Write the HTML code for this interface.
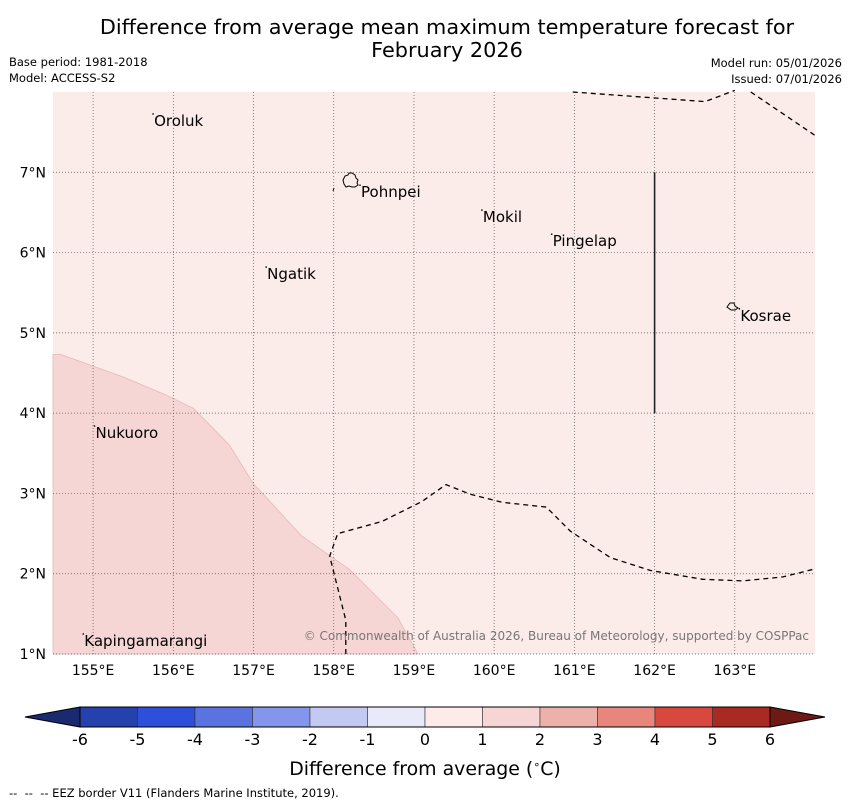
<!DOCTYPE html>
<html><head><meta charset="utf-8"><style>
body{margin:0;background:#fff;}
svg{display:block;font-family:"DejaVu Sans","Liberation Sans",sans-serif;}
</style></head><body>
<svg id="c" width="850" height="804" viewBox="0 0 850 804">
<text x="447" y="34" font-size="20.8" text-anchor="middle">Difference from average mean maximum temperature forecast for</text>
<text x="447" y="57" font-size="20.8" text-anchor="middle">February 2026</text>
<text x="9" y="66" font-size="11.5">Base period: 1981-2018</text>
<text x="9" y="82" font-size="11.5">Model: ACCESS-S2</text>
<text x="842" y="67" font-size="11.5" text-anchor="end">Model run: 05/01/2026</text>
<text x="842" y="83" font-size="11.5" text-anchor="end">Issued: 07/01/2026</text>
<g id="map"></g>
<g id="cbar"></g>
<text x="425" y="775" font-size="18.9" text-anchor="middle">Difference from average (<tspan font-size="11" dy="-7">∘</tspan><tspan dy="7">C)</tspan></text>
<text x="9" y="797" font-size="11.5" xml:space="preserve" style="white-space:pre">--  --  -- EEZ border V11 (Flanders Marine Institute, 2019).</text>
</svg>
<script>
const lonTicks=[155,156,157,158,159,160,161,162,163];
const latTicks=[1,2,3,4,5,6,7];
const anomalyZone=[[154.5,4.73],[154.6,4.73],[155.4,4.44],[155.9,4.23],[156.25,4.06],[156.7,3.6],[157.0,3.12],[157.6,2.47],[158.2,2.05],[158.8,1.45],[159.05,1.0],[154.5,1.0]];
const eezTop=[[160.98,8.0],[162.63,7.88],[163.0,8.02]];
const eezTop2=[[163.2,8.0],[164.0,7.46]];
const eezSouth=[[158.15,1.0],[158.15,1.42],[157.95,2.22],[158.05,2.5],[158.6,2.65],[159.1,2.9],[159.4,3.11],[159.7,2.99],[160.1,2.89],[160.65,2.83],[160.95,2.53],[161.45,2.2],[161.95,2.04],[162.6,1.93],[163.1,1.91],[163.6,1.96],[164.0,2.06]];
const boundary=[[162.0,7.0],[162.0,4.0]];
const places=["Oroluk","Pohnpei","Mokil","Pingelap","Ngatik","Kosrae","Nukuoro","Kapingamarangi"];
const placeLon=[155.76,158.34,159.86,160.73,157.17,163.07,155.03,154.89];
const placeLat=[7.577,6.69,6.38,6.08,5.67,5.15,3.69,1.10];
const cbarLevels=[-6,-5,-4,-3,-2,-1,0,1,2,3,4,5,6];
const cbarColors=["#2541ae","#2e4fdc","#5a73e0","#8396eb","#c2c9f2","#e8eafa","#fcebe9","#f6d5d4","#eeb0ab","#e8857d","#d9483e","#a82a22"];
const NS="http://www.w3.org/2000/svg";
const L=53,R=815,T=92,B=654,lon0=154.5,lon1=164.0,lat0=1.0,lat1=8.0;
const xs=v=>L+(v-lon0)/(lon1-lon0)*(R-L);
const ys=v=>B-(v-lat0)/(lat1-lat0)*(B-T);
function mk(tag,p,a){const e=document.createElementNS(NS,tag);for(const k in a)e.setAttribute(k,a[k]);p.appendChild(e);return e;}
const map=document.getElementById('map');
let e=mk('rect',map,{x:L,y:T,width:R-L,height:B-T,fill:'#fbebe9'});


const pts=a=>a.map(p=>xs(p[0]).toFixed(1)+','+ys(p[1]).toFixed(1)).join(' ');
e=mk('polygon',map,{points:pts(anomalyZone),fill:'#f6d6d5',stroke:'#e3b9b8','stroke-width':0.8});


lonTicks.forEach(v=>{
 let g=mk('line',map,{x1:xs(v),x2:xs(v),y1:T,y2:B,stroke:'#555','stroke-width':0.7,'stroke-dasharray':'1,2'});
 
 
 let t=mk('text',map,{x:xs(v),y:B+21,'font-size':14,'text-anchor':'middle'});t.textContent=v+'°E';
 
 
});
latTicks.forEach(v=>{
 let g=mk('line',map,{x1:L,x2:R,y1:ys(v),y2:ys(v),stroke:'#555','stroke-width':0.7,'stroke-dasharray':'1,2'});
 
 
 let t=mk('text',map,{x:L-7,y:ys(v)+5,'font-size':14,'text-anchor':'end'});t.textContent=v+'°N';
 
 
});
[eezTop,eezTop2,eezSouth].forEach(a=>{
 let p=mk('polyline',map,{points:pts(a),fill:'none',stroke:'#000','stroke-width':1.3,'stroke-dasharray':'5,4'});
 
 
});
e=mk('polyline',map,{points:pts(boundary),fill:'none',stroke:'#222','stroke-width':1.6});


e=mk('path',map,{d:'M343,180 l2,-4 3,-1 1,-2 3,0 3,2 1,3 2,2 -1,3 1,2 -3,2 -3,0 -3,-1 -3,1 -2,-3 z M727,307 l3,-4 4,0 1,3 3,2 -3,2 -4,0 z M333,191 l1,-3',fill:'none',stroke:'#000','stroke-width':1});


places.forEach((n,i)=>{
 let d=mk('circle',map,{cx:xs(placeLon[i])-1,cy:ys(placeLat[i])-12,r:0.8,fill:'#000'});
 
 
 let t=mk('text',map,{x:xs(placeLon[i]),y:ys(placeLat[i]),'font-size':15});t.textContent=n;
 
 
});
e=mk('text',map,{x:809,y:640,'font-size':12,'text-anchor':'end',fill:'#777'});e.textContent='© Commonwealth of Australia 2026, Bureau of Meteorology, supported by COSPPac';


const cb=document.getElementById('cbar');
const CL=80,CR=770,CT=707,CB=727,lv0=cbarLevels[0],lv1=cbarLevels[cbarLevels.length-1];
const cx=v=>CL+(v-lv0)/(lv1-lv0)*(CR-CL);
e=mk('polygon',cb,{points:`${CL},${CT} 25,${(CT+CB)/2} ${CL},${CB}`,fill:'#1a2a70',stroke:'#000','stroke-width':1});


e=mk('polygon',cb,{points:`${CR},${CT} 825,${(CT+CB)/2} ${CR},${CB}`,fill:'#6e1a14',stroke:'#000','stroke-width':1});


cbarColors.forEach((c,i)=>{
 let r=mk('rect',cb,{x:cx(cbarLevels[i]),y:CT,width:cx(cbarLevels[i+1])-cx(cbarLevels[i]),height:CB-CT,fill:c,stroke:'#333','stroke-width':0.6});
 
 
});
e=mk('rect',cb,{x:CL,y:CT,width:CR-CL,height:CB-CT,fill:'none',stroke:'#000','stroke-width':1});


cbarLevels.forEach(v=>{
 let t=mk('text',cb,{x:cx(v),y:745,'font-size':16,'text-anchor':'middle'});t.textContent=v;
 
 
});
</script>
</body></html>
